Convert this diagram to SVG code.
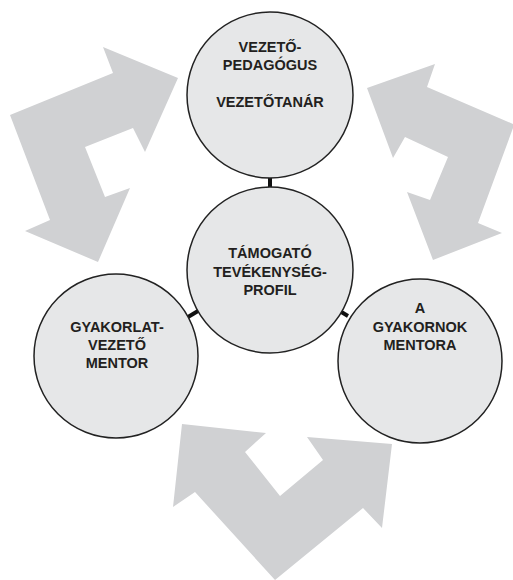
<svg xmlns="http://www.w3.org/2000/svg" width="513" height="580" viewBox="0 0 513 580">
<style>
.arrow{fill:#d0d1d3;stroke:none}
.node circle{fill:#e6e7e8;stroke:#222;stroke-width:1.5}
.node text{font-family:"Liberation Sans",Arial,sans-serif;font-weight:bold;font-size:14.5px;fill:#231f20;text-anchor:middle}
.conn line{stroke:#111;stroke-width:4}
</style>
<rect width="513" height="580" fill="#fff"/>
<g id="arrows">
<polygon id="arrow-left" class="arrow" points="178,78 145,152 133,128 85,147 105,197 130,188 98,262 25,231 50,220 10,115 113,73 103,47"/>
<polygon id="arrow-right" class="arrow" points="367,88 435,64 427,87 513,124 513,128 478,223 502,233 433,260 407,192 430,200 448,157 405,137 393,158"/>
<polygon id="arrow-bottom" class="arrow" points="182,424 266,433 245,452 280,496 323,460 307,437 392,444 382,528 363,508 275,580 195,492 173,507"/>
</g>
<g id="connectors" class="conn">
<line x1="270" y1="176" x2="270" y2="188"/>
<line x1="188" y1="317" x2="198" y2="311"/>
<line x1="338" y1="310" x2="348" y2="316"/>
</g>
<g id="node-top" class="node">
<circle cx="270" cy="95" r="83"/>
<text x="270" y="52">VEZETŐ-</text>
<text x="270" y="70">PEDAGÓGUS</text>
<text x="270" y="107">VEZETŐTANÁR</text>
</g>
<g id="node-center" class="node">
<circle cx="270" cy="270" r="83"/>
<text x="270" y="258">TÁMOGATÓ</text>
<text x="270" y="277">TEVÉKENYSÉG-</text>
<text x="270" y="295">PROFIL</text>
</g>
<g id="node-left" class="node">
<circle cx="116" cy="356" r="82"/>
<text x="117" y="332">GYAKORLAT-</text>
<text x="117" y="350">VEZETŐ</text>
<text x="117" y="368">MENTOR</text>
</g>
<g id="node-right" class="node">
<circle cx="420" cy="361" r="82"/>
<text x="420" y="313">A</text>
<text x="420" y="332">GYAKORNOK</text>
<text x="420" y="350">MENTORA</text>
</g>
</svg>
